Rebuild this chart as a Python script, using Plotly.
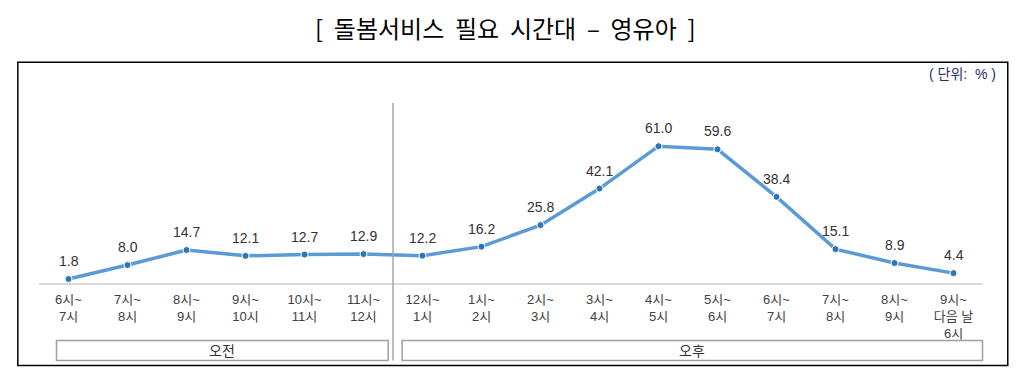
import plotly.graph_objects as go

categories = ["6시~<br>7시", "7시~<br>8시", "8시~<br>9시", "9시~<br>10시", "10시~<br>11시", "11시~<br>12시",
              "12시~<br>1시", "1시~<br>2시", "2시~<br>3시", "3시~<br>4시", "4시~<br>5시", "5시~<br>6시",
              "6시~<br>7시", "7시~<br>8시", "8시~<br>9시", "9시~<br>다음 날<br>6시"]
values = [1.8, 8.0, 14.7, 12.1, 12.7, 12.9, 12.2, 16.2, 25.8, 42.1, 61.0, 59.6, 38.4, 15.1, 8.9, 4.4]
groups = ["오전", "오후"]
group_spans = [(0, 5), (6, 15)]

title_text = "[\u00a0 돌봄서비스\u00a0 필요\u00a0 시간대\u00a0 –\u00a0 영유아\u00a0 ]"
unit_text = "(\u00a0단위:\u00a0 %\u00a0)"

# page has an 8px body margin; figure origin sits at (8, 8)
OFF = 8
W_PX, H_PX = 1024 - OFF, 381 - OFF
L, R, T, B = 38.5 - OFF, 983.5 - OFF, 103.0 - OFF, 283.3 - OFF
PW, PH = R - L, B - T

def px(xp):
    return (xp - OFF - L) / PW

def py(yp):
    return (B - (yp - OFF)) / PH

xs = list(range(len(values)))
ymax = PH / 2.247

fig = go.Figure()
fig.add_trace(go.Scatter(
    x=xs, y=values, mode="lines+markers",
    line=dict(color="#5B9BD5", width=3.5),
    marker=dict(color="#2E75B6", size=7, line=dict(color="white", width=1)),
    hoverinfo="skip", showlegend=False, cliponaxis=False,
))

font_fam = "Liberation Sans, Noto Sans CJK KR, sans-serif"
annotations = []
for x, v in zip(xs, values):
    annotations.append(dict(x=x, y=v, xref="x", yref="y", text=f"{v:.1f}", showarrow=False,
                            yanchor="bottom", yshift=8, font=dict(family=font_fam, size=14, color="#333333")))

annotations.append(dict(x=px(505), y=py(27), xref="paper", yref="paper", text=title_text, showarrow=False,
                        xanchor="center", yanchor="middle",
                        font=dict(family="Noto Sans CJK KR", size=24, color="#000000")))
annotations.append(dict(x=px(999), y=py(74), xref="paper", yref="paper", text=unit_text, showarrow=False,
                        xanchor="right", yanchor="middle",
                        font=dict(family=font_fam, size=14, color="#1F2F6B")))

shapes = []
# outer frame
shapes.append(dict(type="rect", xref="paper", yref="paper", x0=px(17.3), x1=px(1008.3), y0=py(366), y1=py(62.3),
                   line=dict(color="#000000", width=1.5), fillcolor="rgba(0,0,0,0)", layer="below"))
# divider
shapes.append(dict(type="line", xref="x", yref="paper", x0=5.5, x1=5.5, y0=py(361), y1=1.0,
                   line=dict(color="#A6A6A6", width=1.5)))
# group boxes
box_edges = [(56, 388), (402, 983)]
for g, (x0p, x1p) in zip(groups, box_edges):
    shapes.append(dict(type="rect", xref="paper", yref="paper", x0=px(x0p), x1=px(x1p), y0=py(361), y1=py(341),
                       line=dict(color="#A0A0A0", width=1.5), fillcolor="white"))
    annotations.append(dict(x=px((x0p + x1p) / 2), y=py(351), xref="paper", yref="paper", text=g, showarrow=False,
                            xanchor="center", yanchor="middle",
                            font=dict(family=font_fam, size=14, color="#333333")))

fig.update_layout(
    width=W_PX, height=H_PX,
    margin=dict(l=L, r=W_PX - R, t=T, b=H_PX - B, pad=0),
    paper_bgcolor="white", plot_bgcolor="white",
    xaxis=dict(range=[-0.5, 15.5], tickvals=xs, ticktext=categories, showgrid=False, zeroline=False,
               showline=True, linecolor="#D9D9D9", linewidth=1.5, ticks="", ticklabelstandoff=4,
               tickfont=dict(family=font_fam, size=13, color="#404040"), fixedrange=True),
    yaxis=dict(range=[0, ymax], visible=False, fixedrange=True),
    annotations=annotations, shapes=shapes,
)

fig.write_html("out.html")
